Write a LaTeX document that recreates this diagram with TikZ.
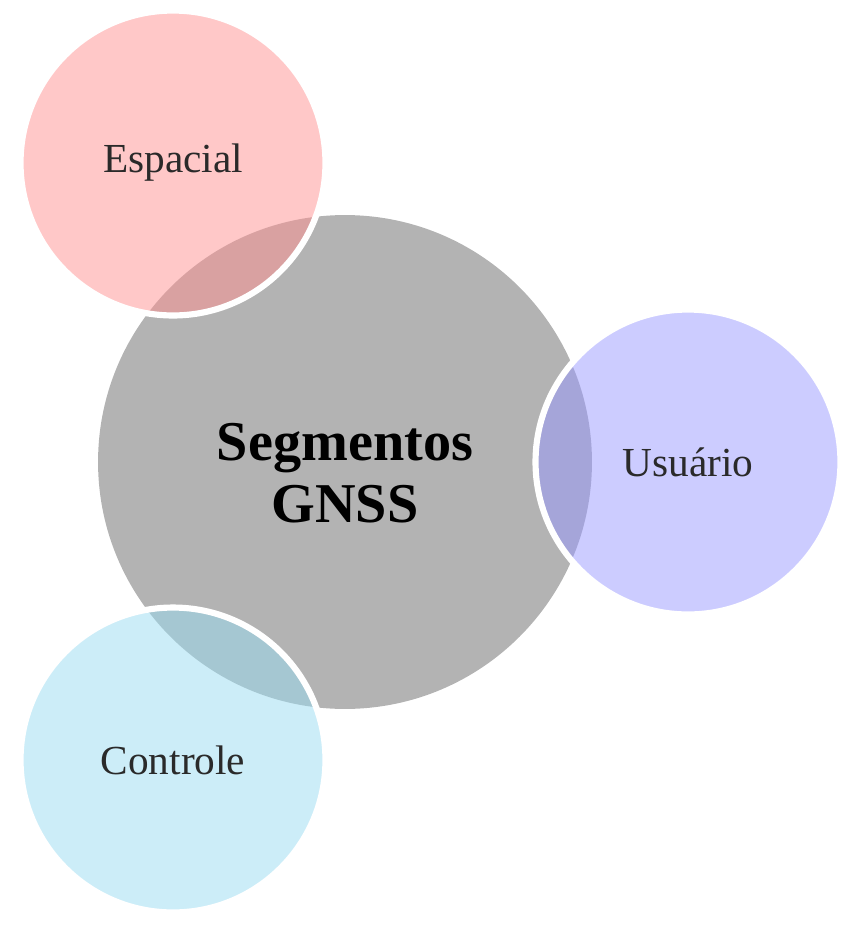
\documentclass[tikz,border=0pt]{standalone}
\usepackage{fontspec}
\setmainfont{Liberation Serif}
\usepackage{tikz}
\definecolor{mygraycolor}{HTML}{B3B3B3}
\definecolor{myespacialcolor}{HTML}{FF9191}
\definecolor{myusuariocolor}{HTML}{9999FF}
\definecolor{mycontrolecolor}{HTML}{99DBF1}
\definecolor{mytextcolor}{HTML}{2A2A2A}

\begin{document}
\begin{tikzpicture}[x=0.02cm, y=-0.02cm, segcircle/.style={circle, draw=white, line width=3.5pt, fill opacity=0.5, text opacity=1, text=mytextcolor, minimum size=6.1cm, inner sep=0pt, font=\fontsize{23.5pt}{23.5pt}\selectfont}]%
\useasboundingbox (0,0) rectangle (850,931);%
\node[circle, fill=mygraycolor, minimum size=9.88cm, inner sep=0pt] (gnss) at (345,462) {};%
\node[align=center, font=\fontsize{32pt}{35pt}\selectfont\bfseries] (gnsslabel) at (345,473) {Segmentos\\GNSS};%
\node[segcircle, fill=myespacialcolor] (espacial) at (173,163) {Espacial};%
\node[segcircle, fill=myusuariocolor] (usuario) at (688,462) {Usuário};%
\node[segcircle, fill=mycontrolecolor] (controle) at (173,760) {Controle};%
\end{tikzpicture}
\end{document}
